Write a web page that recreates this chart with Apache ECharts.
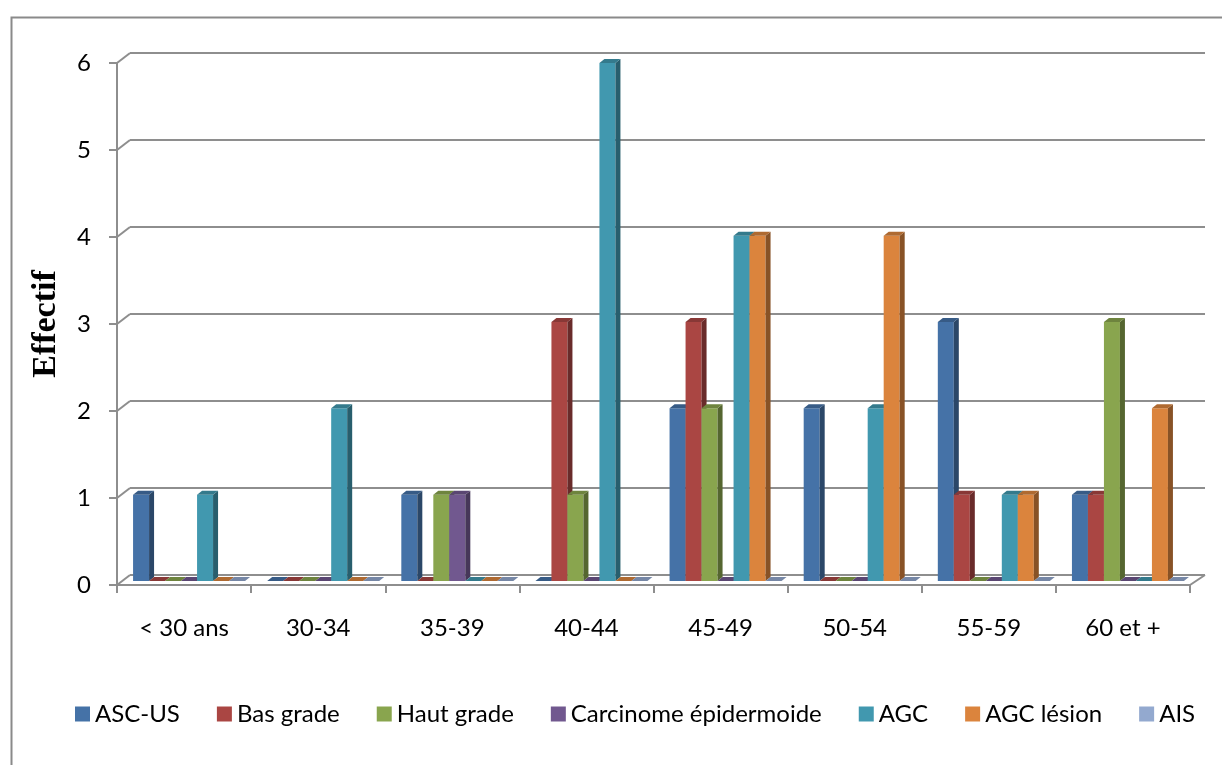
<!DOCTYPE html>
<html>
<head>
<meta charset="utf-8">
<script src="https://cdn.jsdelivr.net/npm/echarts@6/dist/echarts.min.js"></script>
<style>
  html, body { margin: 0; padding: 0; background: #fff; }
  #chart { width: 1222px; height: 765px; }
</style>
</head>
<body>
<div id="chart"></div>
<script>
// Age groups and counts per cytology result
const categories = ['< 30 ans', '30-34', '35-39', '40-44', '45-49', '50-54', '55-59', '60 et +'];
const seriesNames = ['ASC-US', 'Bas grade', 'Haut grade', 'Carcinome épidermoide', 'AGC', 'AGC lésion', 'AIS'];
const ascUs      = [1, 0, 1, 0, 2, 2, 3, 1];
const basGrade   = [0, 0, 0, 3, 3, 0, 1, 1];
const hautGrade  = [0, 0, 1, 1, 2, 0, 0, 3];
const carcinome  = [0, 0, 1, 0, 0, 0, 0, 0];
const agc        = [1, 2, 0, 6, 4, 2, 1, 0];
const agcLesion  = [0, 0, 0, 0, 4, 4, 1, 2];
const ais        = [0, 0, 0, 0, 0, 0, 0, 0];
const seriesValues = [ascUs, basGrade, hautGrade, carcinome, agc, agcLesion, ais];
const yTicks = [0, 1, 2, 3, 4, 5, 6];

const baseColors = ['#4572A7', '#AA4643', '#89A54E', '#71588F', '#4198AF', '#DB843D', '#93A9CF'];

function shade(hex, f) {
  const n = parseInt(hex.slice(1), 16);
  const r = Math.round(((n >> 16) & 255) * f);
  const g = Math.round(((n >> 8) & 255) * f);
  const b = Math.round((n & 255) * f);
  return 'rgb(' + Math.min(r, 255) + ',' + Math.min(g, 255) + ',' + Math.min(b, 255) + ')';
}

const GRID_LINE = '#8e8e8e';
const FONT = 'Lato, "Open Sans", sans-serif';
const FONT_SIZE = 24;
const DEPTH_X = 13, DEPTH_Y = 10;   // side wall depth
const BAR_DX = 5, BAR_DY = 4;       // bar box depth

const chart = echarts.init(document.getElementById('chart'), null, { renderer: 'canvas' });

// 3D-looking column: front face, right side face and top face
function barRenderer(sIdx) {
  return function (params, api) {
    const cat = api.value(0);
    const v = api.value(1);
    const base = api.coord([cat, 0]);
    const top = api.coord([cat, v]);
    const band = api.size([1, 0])[0];
    const bw = band * 0.835 / seriesNames.length;
    const x = base[0] - bw * seriesNames.length / 2 + sIdx * bw;
    const c = baseColors[sIdx];
    const children = [];
    if (v > 0) {
      children.push({
        type: 'rect',
        shape: { x: x, y: top[1], width: bw, height: base[1] - top[1] },
        style: { fill: c }
      });
      children.push({
        type: 'polygon',
        shape: { points: [[x + bw, top[1]], [x + bw + BAR_DX, top[1] - BAR_DY], [x + bw + BAR_DX, base[1] - BAR_DY], [x + bw, base[1]]] },
        style: { fill: shade(c, 0.62) }
      });
    }
    children.push({
      type: 'polygon',
      shape: { points: [[x, top[1]], [x + BAR_DX, top[1] - BAR_DY], [x + bw + BAR_DX, top[1] - BAR_DY], [x + bw, top[1]]] },
      style: { fill: shade(c, 0.8) }
    });
    return { type: 'group', children: children };
  };
}

const barSeries = seriesNames.map(function (name, i) {
  return {
    name: name,
    type: 'custom',
    xAxisIndex: 2,
    yAxisIndex: 2,
    itemStyle: { color: baseColors[i] },
    renderItem: barRenderer(i),
    data: seriesValues[i].map(function (v, k) { return [k, v]; }),
    silent: true,
    z: 3
  };
});

// short diagonals joining the front axis ticks to the back-wall gridlines
const wallSeries = {
  type: 'custom',
  xAxisIndex: 1,
  yAxisIndex: 1,
  silent: true,
  z: 1,
  data: yTicks.map(function (t) { return [0, t]; }),
  renderItem: function (params, api) {
    const cs = params.coordSys;
    const y = api.coord([0, api.value(1)])[1];
    const children = [{
      type: 'line',
      shape: { x1: cs.x, y1: y, x2: cs.x + DEPTH_X, y2: y - DEPTH_Y },
      style: { stroke: GRID_LINE, lineWidth: 2 }
    }];
    if (api.value(1) === 0) {
      children.push({
        type: 'line',
        shape: { x1: cs.x + cs.width, y1: y, x2: cs.x + cs.width + DEPTH_X + 2, y2: y - DEPTH_Y },
        style: { stroke: GRID_LINE, lineWidth: 2 }
      });
    }
    return { type: 'group', children: children };
  }
};

const option = {
  animation: false,
  backgroundColor: '#ffffff',
  textStyle: { fontFamily: FONT },
  graphic: [{
    type: 'rect',
    left: 9, top: 15,
    shape: { width: 1400, height: 900 },
    style: { fill: 'none', stroke: '#8a8a8a', lineWidth: 2 },
    silent: true,
    z: -1
  }],
  legend: {
    data: seriesNames,
    left: 70,
    top: 697,
    itemWidth: 15,
    itemHeight: 15,
    itemGap: 37,
    icon: 'rect',
    textStyle: { fontFamily: FONT, fontSize: FONT_SIZE, color: '#000', lineHeight: 24 },
    selectedMode: false
  },
  grid: [
    { left: 130, top: 53, width: 1075, height: 522 },   // back wall
    { left: 117, top: 63, width: 1073, height: 522 },   // front axes
    { left: 122, top: 63, width: 1073, height: 518 }    // columns
  ],
  xAxis: [
    { gridIndex: 0, type: 'category', data: categories, axisLine: { show: false }, axisTick: { show: false }, axisLabel: { show: false } },
    {
      gridIndex: 1, type: 'category', data: categories,
      axisLine: { show: true, lineStyle: { color: GRID_LINE, width: 2 } },
      axisTick: { show: true, length: 8, lineStyle: { color: GRID_LINE, width: 2 } },
      axisLabel: { color: '#000', fontFamily: FONT, fontSize: FONT_SIZE, margin: 31 }
    },
    { gridIndex: 2, type: 'category', data: categories, show: false }
  ],
  yAxis: [
    {
      gridIndex: 0, type: 'value', min: 0, max: 6, interval: 1,
      axisLine: { show: false }, axisTick: { show: false }, axisLabel: { show: false },
      splitLine: { show: true, lineStyle: { color: GRID_LINE, width: 2 } }
    },
    {
      gridIndex: 1, type: 'value', min: 0, max: 6, interval: 1,
      axisLine: { show: true, lineStyle: { color: GRID_LINE, width: 2 } },
      axisTick: { show: true, length: 8, lineStyle: { color: GRID_LINE, width: 2 } },
      axisLabel: { color: '#000', fontFamily: FONT, fontSize: FONT_SIZE, margin: 26 },
      splitLine: { show: false },
      name: 'Effectif',
      nameLocation: 'middle',
      nameRotate: 90,
      nameGap: 54,
      nameTextStyle: { fontFamily: '"Liberation Serif", "DejaVu Serif", serif', fontWeight: 'bold', fontSize: 34, color: '#000' }
    },
    { gridIndex: 2, type: 'value', min: 0, max: 6, interval: 1, show: false }
  ],
  series: [wallSeries].concat(barSeries)
};

chart.setOption(option);
</script>
</body>
</html>
